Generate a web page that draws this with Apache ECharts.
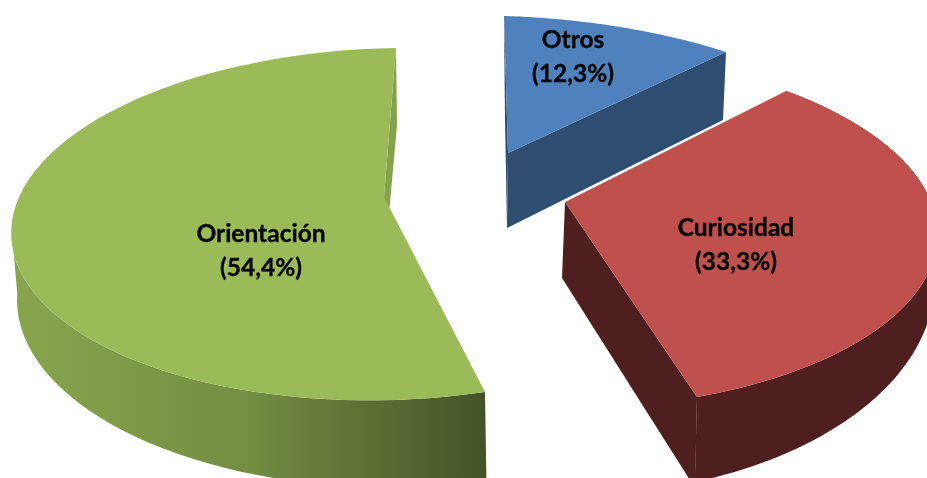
<!DOCTYPE html>
<html>
<head>
<meta charset="utf-8">
<style>html,body{margin:0;padding:0;background:#fff}#c{width:927px;height:478px}</style>
<script src="https://cdn.jsdelivr.net/npm/echarts@6/dist/echarts.min.js"></script>
</head>
<body>
<div id="c"></div>
<script>
const categories = ['Otros', 'Orientación', 'Curiosidad'];
const values = [12.3, 54.4, 33.3];
const percentLabels = ['(12,3%)', '(54,4%)', '(33,3%)'];

// Perspective layout of each exploded slice (no data values here).
const layout = [
  { top: '#4f81bd', wall: '#2e4d71',
    apex: [508, 153], rimA: [504, 16], rimMid: [620, 27], rimB: [726, 52],
    faces: [[[508,153],[726,52],[723,120],[507,228]], [[504,16],[508,153],[507,228],[505,120]]],
    label: [573, 57] },
  { top: '#9bbb59', wall: '#84a14b', gradient: true,
    apex: [384, 197], rimA: [396, 48], rimMid: [13.8, 254], rimB: [485, 392],
    low: { c: [395, 300], a: 378, b: 188, phi0: 76, dir: 1, part: 0.55 }, rimFrom: 0.5,
    faces: [[[396,48],[397,125],[383,280],[384,197]]],
    label: [261, 251] },
  { top: '#bf504d', wall: '#4e1f1e',
    apex: [565, 202], rimA: [786, 91], rimMid: [934, 258], rimB: [697, 397],
    low: { c: [570, 280], a: 365, b: 215, phi0: 70, dir: -1, part: 1 }, rimFrom: 0,
    faces: [[[565,202],[697,397],[695,488],[562,278]]],
    label: [736, 245] }
];

const total = values.reduce((a, b) => a + b, 0);
const STEPS = 72;

function upperRim(s, sweep) {
  const h = sweep / 2;
  const avg = [(s.rimA[0] + s.rimB[0]) / 2, (s.rimA[1] + s.rimB[1]) / 2];
  const k = 1 - Math.cos(h);
  const U = [(s.rimMid[0] - avg[0]) / k, (s.rimMid[1] - avg[1]) / k];
  const V = [(s.rimA[0] - s.rimB[0]) / (2 * Math.sin(h)), (s.rimA[1] - s.rimB[1]) / (2 * Math.sin(h))];
  const C = [s.rimMid[0] - U[0], s.rimMid[1] - U[1]];
  const pts = [];
  for (let i = 0; i <= STEPS; i++) {
    const t = h - 2 * h * i / STEPS;
    pts.push([C[0] + U[0] * Math.cos(t) + V[0] * Math.sin(t), C[1] + U[1] * Math.cos(t) + V[1] * Math.sin(t)]);
  }
  return pts; // from rimA to rimB
}
function lowerRim(s, sweep) {
  const l = s.low, pts = [], p0 = l.phi0 * Math.PI / 180;
  for (let i = 0; i <= STEPS * l.part; i++) {
    const p = p0 + l.dir * sweep * i / STEPS;
    pts.push([l.c[0] + l.a * Math.cos(p), l.c[1] + l.b * Math.sin(p)]);
  }
  return pts; // from the rimB side onward
}

const chart = echarts.init(document.getElementById('c'), null, { renderer: 'canvas' });
chart.setOption({
  animation: false,
  backgroundColor: '#ffffff',
  series: [{
    type: 'custom',
    coordinateSystem: 'none',
    silent: true,
    data: values.map((v, i) => ({ value: [i, v], name: categories[i] })),
    renderItem(params, api) {
      const i = api.value(0), s = layout[i];
      const sweep = api.value(1) / total * 2 * Math.PI;
      const children = [];
      const rim = upperRim(s, sweep);
      if (s.low) {
        const fill = s.gradient
          ? new echarts.graphic.LinearGradient(0, 0, 1, 0, [
              { offset: 0, color: '#88a54d' }, { offset: 0.5, color: '#738d42' }, { offset: 1, color: '#435327' }
            ])
          : s.wall;
        const visibleRim = rim.slice(Math.round(STEPS * s.rimFrom));
        children.push({ type: 'polygon', shape: { points: visibleRim.concat(lowerRim(s, sweep)) }, style: { fill } });
      }
      s.faces.forEach(f => children.push({ type: 'polygon', shape: { points: f }, style: { fill: s.wall } }));
      children.push({ type: 'polygon', shape: { points: [s.apex].concat(rim) }, style: { fill: s.top } });
      children.push({
        type: 'text',
        style: {
          x: s.label[0], y: s.label[1],
          text: categories[i] + '\n' + percentLabels[i],
          align: 'center', verticalAlign: 'middle',
          font: 'bold 24.5px Lato', lineHeight: 33.5, fill: '#050505',
          stroke: '#050505', lineWidth: 0.35
        }
      });
      return { type: 'group', children };
    }
  }]
});
</script>
</body>
</html>
